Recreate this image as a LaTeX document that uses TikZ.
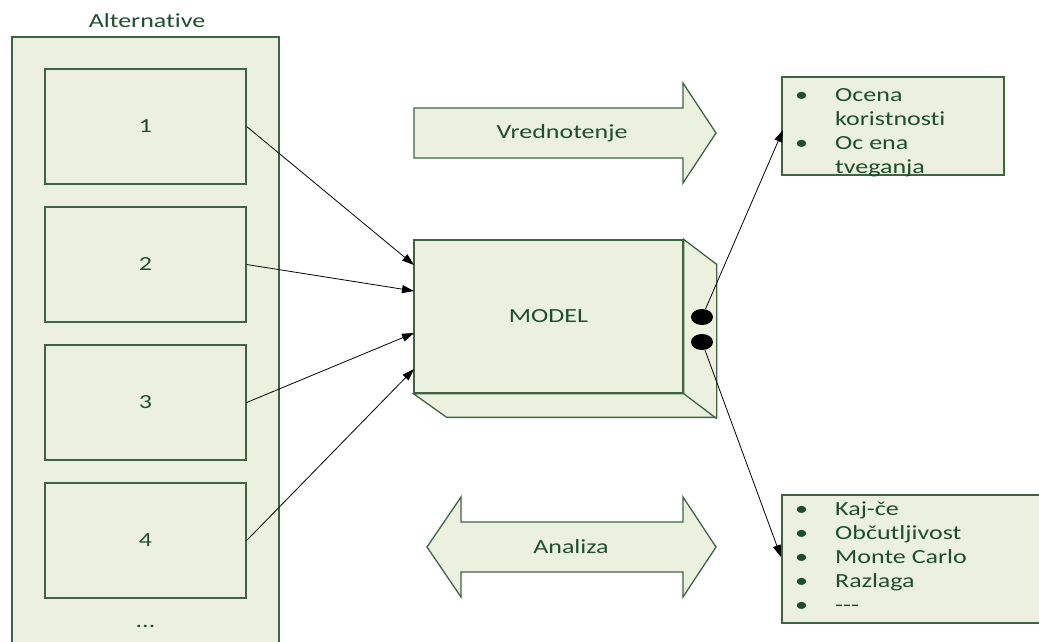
\documentclass[tikz,border=0pt]{standalone}
\usepackage{fontspec}
\setmainfont{Carlito}[FakeStretch=1.3,Ligatures=NoCommon]
\usetikzlibrary{arrows.meta,shapes.geometric}
\definecolor{boxfill}{RGB}{235,241,222}
\definecolor{boxline}{RGB}{62,100,68}
\definecolor{boxtext}{RGB}{30,78,45}
\newcommand{\itm}[1]{\makebox[40pt][l]{\textbullet}#1}
\newcommand{\cnt}[1]{\hspace*{40pt}#1}

\begin{document}
\begin{tikzpicture}[x=1pt,y=-1pt,
  every node/.style={text=boxtext,font=\fontsize{20}{24}\selectfont},
  box/.style={draw=boxline,fill=boxfill,line width=1.3pt,inner sep=0pt},
  link/.style={-{Triangle[length=12pt,width=8pt]},line width=0.8pt},
  dot/.style={ellipse,fill=black,minimum width=22pt,minimum height=16pt,inner sep=0pt}]
  \clip (0,0) rectangle (1039,641);
  % alternatives
  \node (altlabel) at (147,21) {Alternative};
  \node[box,minimum width=267pt,minimum height=660pt] (alts) at (145.5,367) {};
  \foreach \i in {1,...,4}
    \node[box,minimum width=201pt,minimum height=115pt] (alt\i) at (145.5,{126.5+138*(\i-1)}) {\i};
  \node (altmore) at (145.5,626) {...};
  % model box
  \node[box,minimum width=269pt,minimum height=153pt] (model) at (548.5,316.5) {MODEL};
  \draw[box] (model.north east) -- ++(33,25) -- ++(0,153) -- ++(-270,0)
    -- (model.south west) -- (model.south east) -- cycle;
  \draw[boxline,line width=1.3pt] (model.south east) -- ++(33,25);
  \node[dot] (dot1) at (702,317) {};
  \node[dot] (dot2) at (702,342) {};
  \coordinate (in1) at (414,265);
  \coordinate (in2) at (414,291);
  \coordinate (in3) at (414,333);
  \coordinate (in4) at (414,369);
  \foreach \i in {1,...,4}
    \draw[link] (alt\i.east) -- (in\i);
  % arrows
  \draw[box] (414,108) -- (683,108) -- (683,83) -- (716,133) -- (683,183)
    -- (683,158) -- (414,158) -- cycle;
  \node (vred) at (562,133) {Vrednotenje};
  \draw[box] (427,547) -- (461,497) -- (461,522) -- (683,522) -- (683,497)
    -- (716,547) -- (683,597) -- (683,572) -- (461,572) -- (461,597) -- cycle;
  \node (anal) at (571,547) {Analiza};
  % results
  \node[box,minimum width=222pt,minimum height=98pt] (evalbox) at (893,126) {};
  \node[anchor=north west,align=left,inner sep=0pt] (evaltext) at (795,88)
    {\itm{Ocena}\\\cnt{koristnosti}\\\itm{Oc ena}\\\cnt{tveganja}};
  \node[box,minimum width=270pt,minimum height=128pt] (analbox) at (917,559) {};
  \node[anchor=north west,align=left,inner sep=0pt] (analtext) at (795,502)
    {\itm{Kaj-če}\\\itm{Občutljivost}\\\itm{Monte Carlo}\\\itm{Razlaga}\\\itm{\mbox{-}\mbox{-}\mbox{-}}};
  \coordinate (evalin) at (783,130);
  \coordinate (analin) at (781,557);
  \draw[link] (dot1) -- (evalin);
  \draw[link] (dot2) -- (analin);
\end{tikzpicture}
\end{document}
